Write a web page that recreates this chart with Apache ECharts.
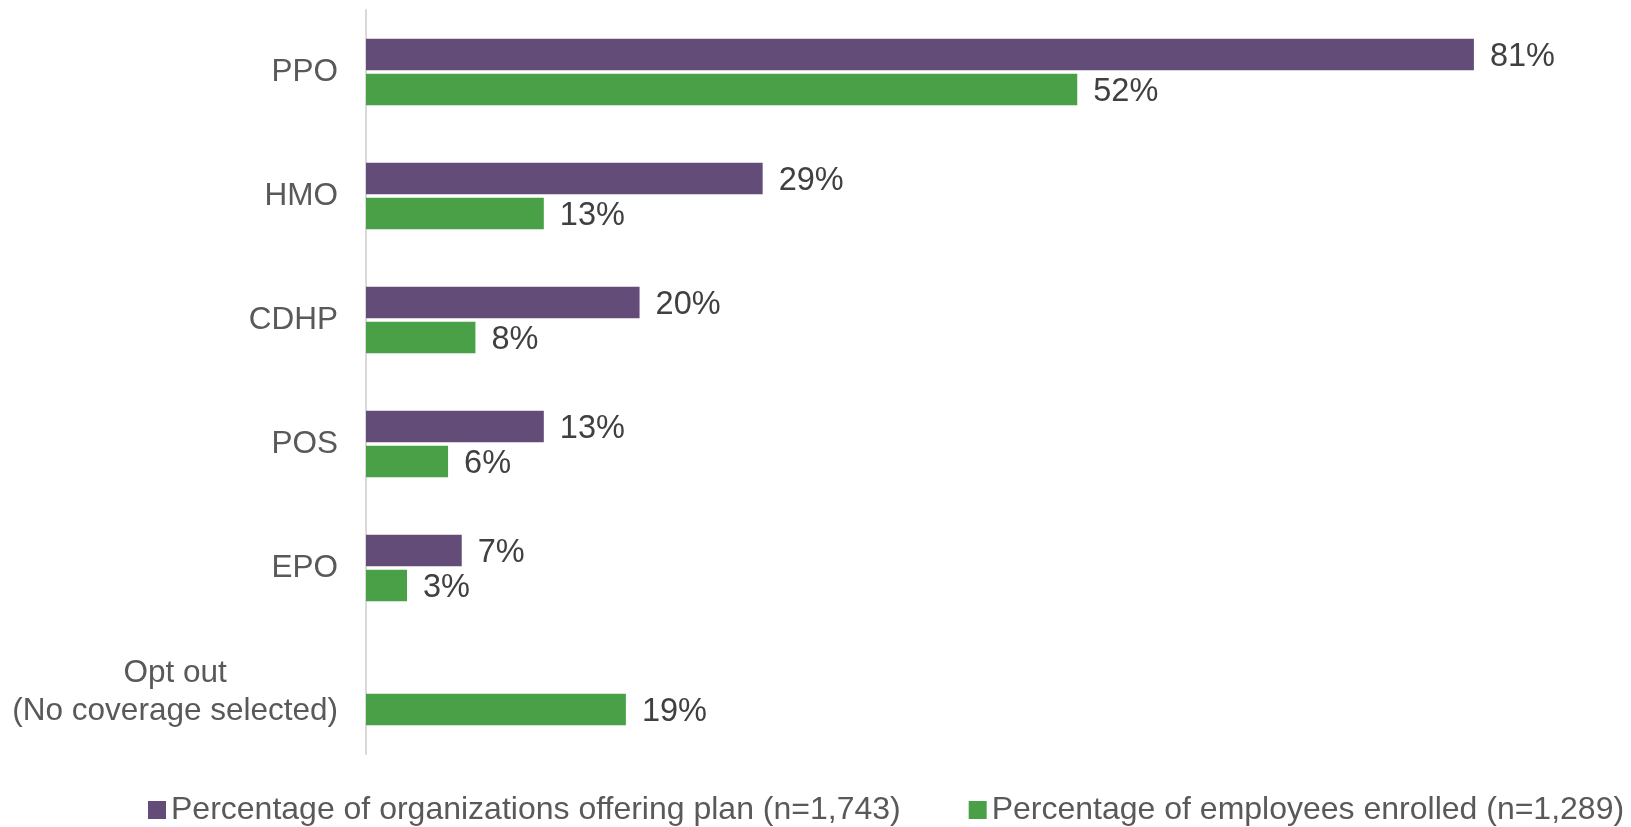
<!DOCTYPE html>
<html>
<head>
<meta charset="utf-8">
<title>Health plan types offered and enrolled</title>
<script src="https://cdn.jsdelivr.net/npm/echarts@6/dist/echarts.min.js"></script>
<style>
  html, body { margin: 0; padding: 0; background: #ffffff; }
  #chart { width: 1631px; height: 827px; }
</style>
</head>
<body>
<div id="chart"></div>
<script>
// Plan types, top to bottom
const categories = ['PPO', 'HMO', 'CDHP', 'POS', 'EPO', 'Opt out\n(No coverage selected)'];
// Percentage of organizations offering each plan type (no value for opting out)
const offeringPlan = [81, 29, 20, 13, 7, null];
// Percentage of employees enrolled in each plan type
const employeesEnrolled = [52, 13, 8, 6, 3, 19];

const seriesNames = [
  'Percentage of organizations offering plan (n=1,743)',
  'Percentage of employees enrolled (n=1,289)'
];

const FONT = 'Arial, "Liberation Sans", sans-serif';
const PURPLE = '#634d78';
const GREEN = '#4aa046';

const chart = echarts.init(document.getElementById('chart'), null, { renderer: 'canvas' });

function valueLabel() {
  return {
    show: true,
    position: 'right',
    distance: 16,
    offset: [0, 3],
    formatter: p => p.value + '%',
    fontFamily: FONT,
    fontSize: 32.5,
    color: '#404040'
  };
}

chart.setOption({
  animation: false,
  backgroundColor: '#ffffff',
  grid: { left: 366, right: 34, top: 10, bottom: 73, containLabel: false },
  xAxis: {
    type: 'value',
    min: 0,
    max: 90,
    show: false
  },
  yAxis: {
    type: 'category',
    inverse: true,
    data: categories,
    axisLine: { show: true, lineStyle: { color: '#d9d9d9', width: 2 } },
    axisTick: { show: false },
    splitLine: { show: false },
    axisLabel: {
      margin: 28,
      align: 'right',
      fontFamily: FONT,
      fontSize: 31.5,
      color: '#595959',
      formatter: v => v.indexOf('\n') >= 0
        ? v.split('\n').map(s => '{c|' + s + '}').join('\n')
        : v,
      rich: {
        c: {
          align: 'center',
          fontFamily: FONT,
          fontSize: 31.5,
          lineHeight: 38,
          color: '#595959'
        }
      }
    }
  },
  legend: {
    left: 148,
    top: 794,
    width: 1480,
    padding: 0,
    icon: 'rect',
    itemWidth: 18,
    itemHeight: 18,
    itemGap: 68,
    textStyle: { fontFamily: FONT, fontSize: 32, color: '#595959', lineHeight: 32 },
    data: seriesNames
  },
  series: [
    {
      name: seriesNames[0],
      type: 'bar',
      data: offeringPlan,
      barWidth: 31.5,
      barGap: '11%',
      itemStyle: { color: PURPLE },
      label: valueLabel()
    },
    {
      name: seriesNames[1],
      type: 'bar',
      data: employeesEnrolled,
      barWidth: 31.5,
      barGap: '11%',
      itemStyle: { color: GREEN },
      label: valueLabel()
    }
  ]
});
</script>
</body>
</html>
